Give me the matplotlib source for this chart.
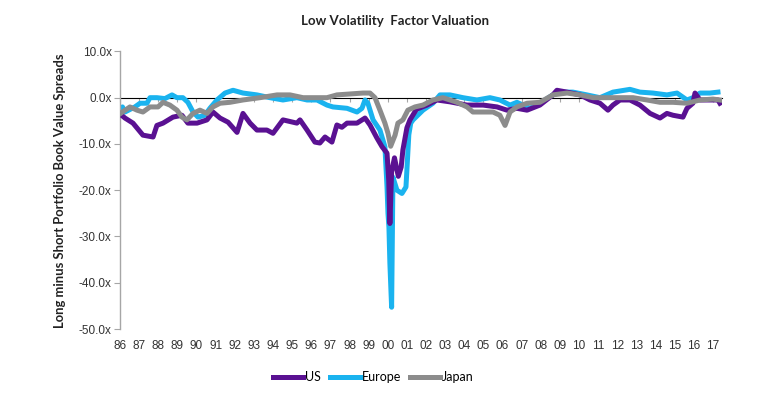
import matplotlib
matplotlib.use("Agg")
import matplotlib.pyplot as plt

# ---- data (decimal year, spread value) ----
us_t = [1986.0, 1986.26, 1986.68, 1987.20, 1987.73, 1987.93, 1988.25, 1988.77, 1989.24, 1989.55,
        1990.03, 1990.55, 1990.86, 1991.23, 1991.65, 1992.12, 1992.43, 1992.80, 1993.16, 1993.68,
        1994.00, 1994.52, 1995.25, 1995.41, 1995.78, 1996.19, 1996.45, 1996.72, 1997.08, 1997.34,
        1997.60, 1997.87, 1998.39, 1998.81, 1999.07, 1999.43, 1999.70, 1999.96, 2000.05, 2000.11,
        2000.20, 2000.35, 2000.55, 2000.70, 2000.79, 2001.00, 2001.16, 2001.50, 2002.05, 2002.57,
        2003.25, 2004.14, 2004.98, 2005.71, 2006.23, 2006.75, 2007.28, 2007.95, 2008.63, 2008.84,
        2009.37, 2010.05, 2010.57, 2011.09, 2011.51, 2011.77, 2012.14, 2012.66, 2013.18, 2013.71,
        2014.23, 2014.59, 2014.91, 2015.43, 2015.64, 2015.95, 2016.06, 2016.32, 2016.84, 2017.26,
        2017.36]
us_v = [-3.5, -4.4, -5.5, -8.1, -8.5, -6.0, -5.5, -4.2, -3.8, -5.5,
        -5.5, -4.8, -3.1, -4.4, -5.3, -7.5, -3.4, -5.5, -7.0, -7.0,
        -7.7, -4.8, -5.5, -4.8, -7.0, -9.6, -9.8, -8.5, -9.6, -5.9,
        -6.4, -5.5, -5.5, -4.4, -5.9, -8.7, -10.6, -12.0, -17.9, -27.2,
        -16.0, -13.0, -17.0, -15.0, -11.3, -6.5, -4.8, -2.5, -1.6, -0.5,
        -0.9, -1.6, -1.6, -2.0, -2.7, -2.3, -2.7, -1.6, 0.6, 1.6,
        1.2, 0.6, -0.5, -1.2, -2.7, -1.6, -0.5, -0.5, -1.6, -3.4,
        -4.4, -3.4, -3.8, -4.2, -2.3, -1.2, 1.0, -0.5, -0.5, -0.5,
        -1.2]

eu_t = [1986.0, 1986.13, 1986.26, 1986.78, 1987.05, 1987.41, 1987.57, 1987.93, 1988.35, 1988.72,
        1988.98, 1989.29, 1989.55, 1989.82, 1990.08, 1990.44, 1990.70, 1991.07, 1991.49, 1991.91,
        1992.43, 1993.16, 1993.84, 1994.52, 1995.25, 1995.78, 1996.30, 1996.82, 1997.13, 1997.87,
        1998.39, 1998.65, 1998.81, 1998.96, 1999.23, 1999.59, 1999.85, 1999.96, 2000.01, 2000.06,
        2000.11, 2000.20, 2000.27, 2000.48, 2000.74, 2000.95, 2001.10, 2001.20, 2001.32, 2001.84,
        2002.36, 2002.73, 2003.25, 2003.93, 2004.66, 2005.34, 2005.86, 2006.39, 2006.75, 2007.43,
        2007.95, 2008.63, 2008.84, 2009.68, 2010.41, 2011.09, 2011.77, 2012.66, 2013.18, 2013.86,
        2014.59, 2015.12, 2015.64, 2015.95, 2016.32, 2016.84, 2017.26]
eu_v = [-2.5, -2.0, -3.1, -2.0, -1.2, -1.2, 0.0, 0.0, -0.2, 0.6,
        0.0, 0.0, -1.0, -3.1, -4.2, -3.8, -2.3, -0.5, 1.0, 1.6,
        1.0, 0.6, 0.0, -0.5, 0.0, -0.5, -0.5, -1.6, -2.0, -2.3,
        -3.1, -2.3, -0.5, -1.2, -4.8, -7.0, -10.6, -19.3, -25.0, -28.0,
        -35.8, -45.3, -17.2, -20.0, -20.7, -19.3, -8.0, -5.5, -4.8, -2.7,
        -1.2, 0.6, 0.6, 0.0, -0.5, 0.0, -0.5, -1.6, -1.0, -2.3,
        -1.2, 0.6, 1.2, 1.2, 0.6, 0.0, 1.2, 1.8, 1.2, 1.0,
        0.6, 1.0, -0.5, 0.0, 1.0, 1.0, 1.2]

jp_t = [1986.0, 1986.13, 1986.52, 1986.89, 1987.20, 1987.57, 1987.99, 1988.25, 1988.61, 1988.98,
        1989.24, 1989.50, 1989.82, 1990.18, 1990.55, 1990.86, 1991.23, 1991.75, 1992.43, 1993.32,
        1994.21, 1994.89, 1995.57, 1996.09, 1996.82, 1997.34, 1998.02, 1998.70, 1999.07, 1999.33,
        1999.59, 1999.85, 2000.01, 2000.15, 2000.38, 2000.53, 2000.79, 2001.05, 2001.42, 2001.84,
        2002.36, 2002.88, 2003.62, 2004.14, 2004.45, 2005.50, 2005.86, 2006.13, 2006.39, 2006.75,
        2007.28, 2007.95, 2008.63, 2009.37, 2010.05, 2010.73, 2011.46, 2012.14, 2012.82, 2013.55,
        2014.23, 2014.91, 2015.64, 2016.32, 2017.00, 2017.36]
jp_v = [-3.5, -3.1, -2.0, -2.7, -3.1, -2.0, -2.0, -1.0, -1.6, -2.7,
        -4.2, -4.8, -3.4, -2.7, -3.4, -2.0, -1.2, -1.0, -0.5, 0.0,
        0.6, 0.6, 0.0, 0.0, 0.0, 0.6, 0.8, 1.0, 1.0, 0.0,
        -2.7, -5.5, -7.7, -10.5, -8.1, -5.5, -4.8, -2.7, -2.0, -1.6,
        -0.5, 0.0, -1.0, -2.0, -3.1, -3.1, -3.8, -6.0, -3.1, -2.0,
        -1.2, -1.0, 0.6, 1.0, 0.6, 0.0, 0.0, 0.0, 0.0, -0.5,
        -1.0, -1.0, -1.2, -0.5, -0.3, -0.5]

year_ticks = list(range(1986, 2018))
year_labels = ["%02d" % (y % 100) for y in year_ticks]
y_ticks = [10, 0, -10, -20, -30, -40, -50]
y_labels = ["10.0x", "0.0x", "-10.0x", "-20.0x", "-30.0x", "-40.0x", "-50.0x"]

c_us = "#5a1192"
c_eu = "#1ab3ef"
c_jp = "#8c8c8c"
axis_grey = "#a6a6a6"

fig = plt.figure(figsize=(7.74, 4.08), dpi=100)
ax = fig.add_axes([0.155, 0.1936, 0.7773, 0.6804])

lw = 3.6
l_eu, = ax.plot(eu_t, eu_v, color=c_eu, lw=lw, label="Europe", zorder=2, solid_joinstyle="round")
l_us, = ax.plot(us_t, us_v, color=c_us, lw=lw, label="US", zorder=3, solid_joinstyle="round")
l_jp, = ax.plot(jp_t, jp_v, color=c_jp, lw=lw, label="Japan", zorder=4, solid_joinstyle="round")

ax.set_xlim(1986.0, 2017.45)
ax.set_ylim(-50, 10)

for s in ["top", "right", "bottom"]:
    ax.spines[s].set_visible(False)
ax.spines["left"].set_color(axis_grey)
ax.spines["left"].set_linewidth(1.0)

ax.set_yticks(y_ticks)
ax.set_yticklabels(y_labels)
ax.tick_params(axis="y", length=4, color=axis_grey, labelsize=8.5, labelcolor="#333333", pad=2)

ax.set_xticks(year_ticks)
ax.set_xticklabels(year_labels)
ax.tick_params(axis="x", length=0, labelsize=8.5, labelcolor="#333333", pad=8)
for lab in ax.get_xticklabels() + ax.get_yticklabels():
    lab.set_fontfamily("Liberation Sans")

# zero line with small upward ticks
sec = ax.secondary_xaxis(50 / 60)
sec.set_xticks(year_ticks)
sec.tick_params(axis="x", direction="in", length=3, color=axis_grey, labelbottom=False, labeltop=False)
sec.spines["bottom"].set_color(axis_grey)
sec.spines["bottom"].set_linewidth(1.2)
sec.spines["bottom"].set_zorder(1)

ax.set_ylabel("Long minus Short Portfolio Book Value Spreads", fontsize=9.4, fontweight="bold",
              fontfamily="Lato", color="#222222", labelpad=9)
fig.text(0.51, 0.948, "Low Volatility  Factor Valuation", ha="center", va="center",
         fontsize=9.5, fontweight="bold", fontfamily="Lato", color="#222222")

leg = fig.legend(handles=[l_us, l_eu, l_jp], labels=["US", "Europe", "Japan"], loc="center",
                 bbox_to_anchor=(0.482, 0.076), ncol=3, frameon=False,
                 handlelength=2.4, handletextpad=0.15, columnspacing=0.7,
                 prop={"family": "Lato", "size": 9})

fig.savefig("out.png", dpi=100)
